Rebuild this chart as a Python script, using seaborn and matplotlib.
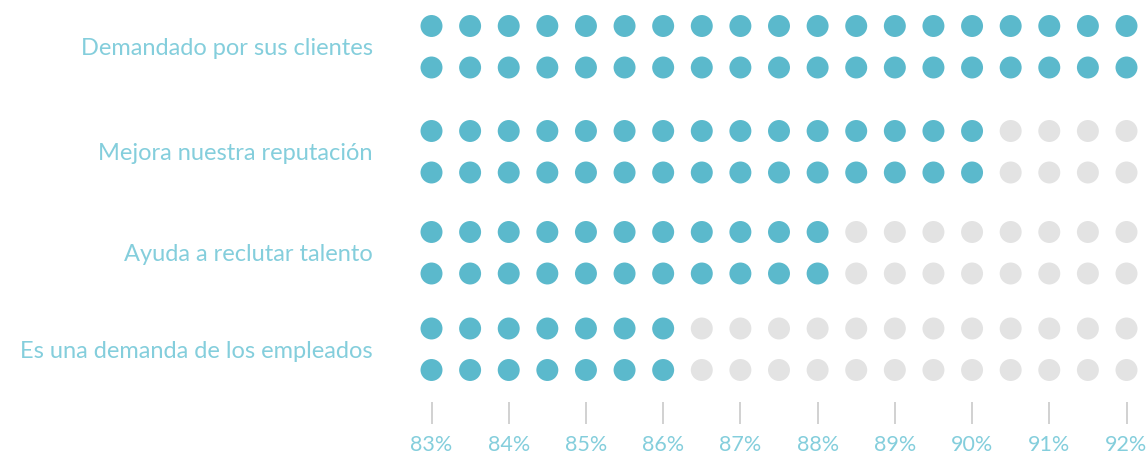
import matplotlib
matplotlib.use("Agg")
import matplotlib.pyplot as plt
import seaborn as sns
import pandas as pd
import numpy as np

categories = [
    "Demandado por sus clientes",
    "Mejora nuestra reputación",
    "Ayuda a reclutar talento",
    "Es una demanda de los empleados",
]
values = [92, 90, 88, 86]          # percent reached by the filled dots
scale_min, scale_max, step = 83, 92, 0.5
tick_values = [83, 84, 85, 86, 87, 88, 89, 90, 91, 92]
tick_labels = [f"{v}%" for v in tick_values]

TEAL = "#5BB9CC"
GREY = "#E3E3E3"
TEXT = "#84CEDC"

sns.set_theme(style="white")
plt.rcParams["font.family"] = ["Lato", "DejaVu Sans"]

W, H = 1148, 454
fig = plt.figure(figsize=(W / 100, H / 100), dpi=100)
left_px, top_px, bottom_px = 395, 0, 400
ax = fig.add_axes([left_px / W, (H - bottom_px) / H, (W - left_px) / W, (bottom_px - top_px) / H])

px_per_unit = (1126 - 431) / (scale_max - scale_min)
ax.set_xlim(scale_min - (431.5 - left_px) / px_per_unit, scale_min + (W - 431.5) / px_per_unit)
ax.set_ylim(bottom_px, top_px)

centers = [46.5, 151.5, 252.5, 349]
rows = []
dots = np.arange(scale_min, scale_max + step / 2, step)
for cat, val, c in zip(categories, values, centers):
    for off in (-20.5, 21):
        for d in dots:
            rows.append({"cat": cat, "x": d, "y": c + off,
                         "state": "on" if d <= val + 1e-9 else "off"})
df = pd.DataFrame(rows)

sns.scatterplot(data=df, x="x", y="y", hue="state", palette={"on": TEAL, "off": GREY},
                s=250, linewidth=0, legend=False, ax=ax, clip_on=False)

for s in ax.spines.values():
    s.set_visible(False)
ax.spines["bottom"].set_position(("outward", 1.5))

ax.set_xticks(tick_values)
ax.set_xticklabels(tick_labels, fontsize=15.5, color=TEXT, fontweight="normal")
ax.set_yticks(centers)
ax.set_yticklabels(categories, fontsize=17, color=TEXT, fontweight="normal")
ax.tick_params(axis="x", direction="out", length=16, width=1.2, color="#C9C9C9", pad=8, bottom=True)
ax.tick_params(axis="y", length=0, pad=16)
ax.set_xlabel("")
ax.set_ylabel("")
ax.grid(False)

fig.savefig("out.png", dpi=100)
